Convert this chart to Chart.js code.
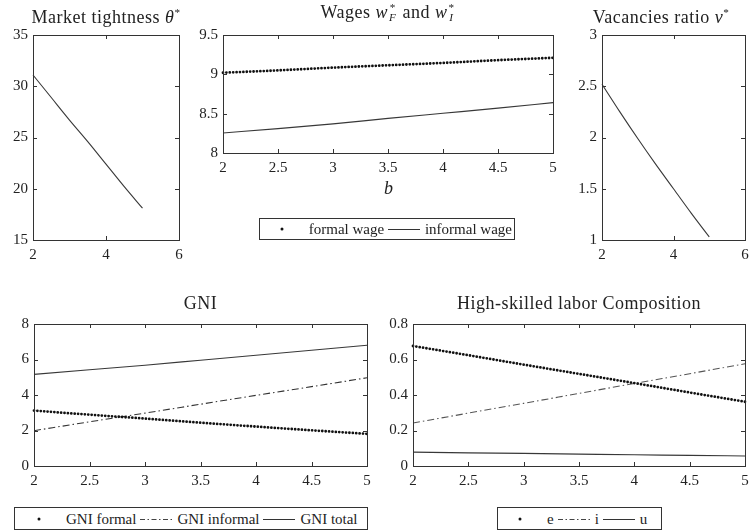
<!DOCTYPE html>
<html>
<head>
<meta charset="utf-8">
<script src="https://cdn.jsdelivr.net/npm/chart.js@4.4.1/dist/chart.umd.min.js"></script>
<style>
  html, body { margin: 0; padding: 0; background: #fff; }
  #wrap { position: relative; width: 752px; height: 531px; overflow: hidden; background: #fff;
          font-family: "Liberation Serif", serif; color: #222; }
  canvas { position: absolute; }
  .title { position: absolute; text-align: center; font-size: 18px; letter-spacing: 0.5px; line-height: 20px; white-space: nowrap; color: #222; }
  .title i { font-style: italic; }
  .sup { font-size: 0.62em; vertical-align: 0.6em; }
  .ss { display: inline-flex; flex-direction: column; font-size: 0.62em; line-height: 0.9em; vertical-align: 0.6em; margin-left: 1px; margin-right: 1px; }
  .legend { position: absolute; border: 1px solid #333; background: #fff; font-size: 15px; line-height: 20px;
            display: flex; align-items: center; white-space: nowrap; box-sizing: border-box; color: #222; }
  .legend svg { display: block; }
  .axlabel { position: absolute; font-style: italic; font-size: 18px; color: #222; }
</style>
</head>
<body>
<div id="wrap">
  <canvas id="c1"></canvas>
  <canvas id="c2"></canvas>
  <canvas id="c3"></canvas>
  <canvas id="c4"></canvas>
  <canvas id="c5"></canvas>

  <div class="title" id="t1">Market tightness <i>θ</i><span class="sup">*</span></div>
  <div class="title" id="t2">Wages <i>w</i><span class="ss"><span>*</span><i>F</i></span> and <i>w</i><span class="ss"><span>*</span><i>I</i></span></div>
  <div class="title" id="t3">Vacancies ratio <i>v</i><span class="sup">*</span></div>
  <div class="title" id="t4">GNI</div>
  <div class="title" id="t5">High-skilled labor Composition</div>
  <div class="axlabel" id="bl">b</div>

  <div class="legend" id="lg2"></div>
  <div class="legend" id="lg4"></div>
  <div class="legend" id="lg5"></div>
</div>
<script>
// ---------------- data ----------------
const bGrid = [2, 2.5, 3, 3.5, 4, 4.5, 5];

const thetaValues   = [31.1, 28.9, 26.7, 24.6, 22.4, 20.2, 18.1];
const wageFormal    = [9.02, 9.05, 9.085, 9.115, 9.145, 9.18, 9.21];
const wageInformal  = [8.255, 8.31, 8.37, 8.44, 8.505, 8.57, 8.64];
const vacancyRatio  = [2.52, 2.25, 1.99, 1.74, 1.50, 1.26, 1.03];
const gniFormal     = [3.12, 2.89, 2.67, 2.44, 2.22, 2.01, 1.81];
const gniInformal   = [1.99, 2.49, 2.98, 3.48, 3.98, 4.47, 4.97];
const gniTotal      = [5.16, 5.42, 5.68, 5.96, 6.24, 6.52, 6.80];
const hsE           = [0.676, 0.624, 0.571, 0.519, 0.467, 0.414, 0.362];
const hsI           = [0.242, 0.298, 0.353, 0.409, 0.465, 0.520, 0.576];
const hsU           = [0.078, 0.074, 0.071, 0.067, 0.063, 0.060, 0.056];

// tick labels
const xTicksWide   = [2, 4, 6];
const xTicksB      = [2, 2.5, 3, 3.5, 4, 4.5, 5];
const thetaTicks   = [15, 20, 25, 30, 35];
const wageTicks    = [8, 8.5, 9, 9.5];
const vacTicks     = [1, 1.5, 2, 2.5, 3];
const gniTicks     = [0, 2, 4, 6, 8];
const hsTicks      = [0, 0.2, 0.4, 0.6, 0.8];

// legend labels
const wageLabels = ['formal wage', 'informal wage'];
const gniLabels  = ['GNI formal', 'GNI informal', 'GNI total'];
const hsLabels   = ['e', 'i', 'u'];

// ---------------- styles ----------------
const INK = '#222';
const STY = {
  dots:    { borderColor: '#111', borderWidth: 2.8, borderDash: [0, 3.4], borderCapStyle: 'round' },
  solid:   { borderColor: '#383838', borderWidth: 1.1, borderDash: [] },
  dashdot: { borderColor: '#555', borderWidth: 1.1, borderDash: [7, 3, 1.5, 3] }
};
const FONT = { family: '"Liberation Serif", serif', size: 15 };

const frame = {
  id: 'frame',
  afterDraw(chart) {
    const { ctx, chartArea: a, scales } = chart;
    ctx.save();
    ctx.strokeStyle = '#333';
    ctx.lineWidth = 1;
    ctx.strokeRect(Math.round(a.left) + 0.5, Math.round(a.top) + 0.5,
                   Math.round(a.right - a.left), Math.round(a.bottom - a.top));
    const L = 4;
    ctx.beginPath();
    scales.x.ticks.forEach(t => {
      const px = Math.round(scales.x.getPixelForValue(t.value)) + 0.5;
      ctx.moveTo(px, a.bottom); ctx.lineTo(px, a.bottom - L);
      ctx.moveTo(px, a.top); ctx.lineTo(px, a.top + L);
    });
    scales.y.ticks.forEach(t => {
      const py = Math.round(scales.y.getPixelForValue(t.value)) + 0.5;
      ctx.moveTo(a.left, py); ctx.lineTo(a.left + L, py);
      ctx.moveTo(a.right, py); ctx.lineTo(a.right - L, py);
    });
    ctx.stroke();
    ctx.restore();
  }
};

function series(ys, style, label) {
  return Object.assign({
    label,
    data: bGrid.map((x, i) => ({ x, y: ys[i] })),
    pointRadius: 0, cubicInterpolationMode: 'monotone', fill: false, clip: 5
  }, style);
}

function panel(id, box, xTicks, yTicks, datasets) {
  const yW = 40, padT = 12, padR = 12, xH = 30;
  const cv = document.getElementById(id);
  const left = box.L - yW, top = box.T - padT;
  const w = box.R - box.L + yW + padR, h = box.B - box.T + padT + xH;
  cv.style.left = left + 'px'; cv.style.top = top + 'px';
  cv.width = w; cv.height = h; cv.style.width = w + 'px'; cv.style.height = h + 'px';
  const axis = (ticks, horiz) => ({
    type: 'linear',
    min: ticks[0], max: ticks[ticks.length - 1],
    afterBuildTicks: s => { s.ticks = ticks.map(v => ({ value: v })); },
    afterFit: s => { if (horiz) s.height = xH; else s.width = yW; },
    grid: { display: true, drawOnChartArea: false, drawTicks: false },
    border: { display: false },
    ticks: { font: FONT, color: INK, padding: horiz ? 6 : 5, maxRotation: 0, autoSkip: false,
             callback: v => String(v) }
  });
  return new Chart(cv, {
    type: 'line',
    data: { datasets },
    options: {
      responsive: false, animation: false, devicePixelRatio: 1,
      layout: { padding: { top: padT, right: padR, left: 0, bottom: 0 } },
      plugins: { legend: { display: false }, tooltip: { enabled: false }, title: { display: false } },
      scales: { x: axis(xTicks, true), y: axis(yTicks, false) }
    },
    plugins: [frame]
  });
}

const B1 = { L: 33, R: 179, T: 33, B: 240 };
const B2 = { L: 223, R: 553, T: 33, B: 153 };
const B3 = { L: 602, R: 745, T: 33, B: 240 };
const B4 = { L: 34, R: 367, T: 322, B: 466 };
const B5 = { L: 413, R: 745, T: 322, B: 466 };

panel('c1', B1, xTicksWide, thetaTicks, [series(thetaValues, STY.solid, 'theta')]);
panel('c2', B2, xTicksB, wageTicks, [series(wageFormal, STY.dots, wageLabels[0]), series(wageInformal, STY.solid, wageLabels[1])]);
panel('c3', B3, xTicksWide, vacTicks, [series(vacancyRatio, STY.solid, 'v')]);
panel('c4', B4, xTicksB, gniTicks, [series(gniFormal, STY.dots, gniLabels[0]), series(gniInformal, Object.assign({}, STY.dashdot, { borderColor: '#333' }), gniLabels[1]), series(gniTotal, STY.solid, gniLabels[2])]);
panel('c5', B5, xTicksB, hsTicks, [series(hsE, STY.dots, hsLabels[0]), series(hsI, STY.dashdot, hsLabels[1]), series(hsU, STY.solid, hsLabels[2])]);

// titles
function placeTitle(id, box, y) {
  const el = document.getElementById(id);
  el.style.left = box.L + 'px'; el.style.width = (box.R - box.L) + 'px'; el.style.top = y + 'px';
}
placeTitle('t1', { L: 0, R: 212 }, 2);
placeTitle('t2', B2, 2);
placeTitle('t3', { L: 570, R: 752 }, 2);
placeTitle('t4', B4, 293);
placeTitle('t5', B5, 293);
const bl = document.getElementById('bl');
bl.style.left = '384px'; bl.style.top = '178px';

// legends
function sample(kind) {
  if (kind === 'dots') return '<svg width="34" height="10"><circle cx="10" cy="5" r="1.5" fill="#111"/></svg>';
  if (kind === 'solid') return '<svg width="36" height="10"><line x1="2" y1="5.5" x2="34" y2="5.5" stroke="#333" stroke-width="1"/></svg>';
  return '<svg width="36" height="10"><line x1="2" y1="5.5" x2="34" y2="5.5" stroke="#444" stroke-width="1" stroke-dasharray="5 2.5 1.5 2.5"/></svg>';
}
function legend(id, box, labels, kinds, pad) {
  const el = document.getElementById(id);
  el.style.left = box.x + 'px'; el.style.top = box.y + 'px';
  el.style.width = box.w + 'px'; el.style.height = box.h + 'px';
  el.style.paddingLeft = pad + 'px';
  el.innerHTML = labels.map((t, i) => sample(kinds[i]) + '<span style="margin:0 2px 0 3px">' + t + '</span>').join('');
}
legend('lg2', { x: 259, y: 218, w: 256, h: 22 }, wageLabels, ['dots', 'solid'], 12);
legend('lg4', { x: 14, y: 507, w: 354, h: 23 }, gniLabels, ['dots', 'dashdot', 'solid'], 14);
legend('lg5', { x: 497, y: 507, w: 165, h: 23 }, hsLabels, ['dots', 'dashdot', 'solid'], 12);
</script>
</body>
</html>
